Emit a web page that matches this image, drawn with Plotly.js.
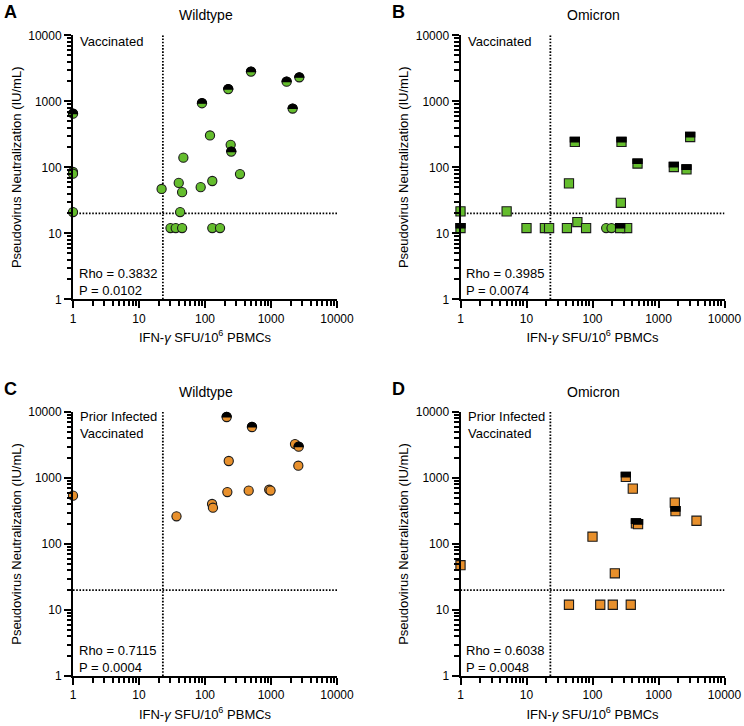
<!DOCTYPE html>
<html>
<head>
<meta charset="utf-8">
<script src="https://cdn.plot.ly/plotly-3.0.1.min.js"></script>
<style>html,body{margin:0;padding:0;background:#fff}</style>
</head>
<body>
<div id="chart" style="width:744px;height:726px"></div>
<script>
// ---------- data ----------
// Panel A: Wildtype, Vaccinated (circles)
const wtVacX = [1, 1, 1, 22, 30, 36, 45, 40, 45, 42, 47, 86, 119, 129, 129, 169, 245, 339];
const wtVacY = [85, 80, 21, 47, 12, 12, 12, 58, 42, 21, 140, 50, 304, 62, 12, 12, 219, 79];
const wtVacHalfX = [1, 90, 225, 250, 498, 1726, 2128, 2684];
const wtVacHalfY = [650, 935, 1530, 173, 2820, 1985, 777, 2310];
// Panel B: Omicron, Vaccinated (squares, two circles)
const omiVacX = [1, 5, 10, 19, 22, 41, 44, 59, 80, 335, 269];
const omiVacY = [21.5, 21.5, 12, 12, 12, 12, 57, 14.8, 12, 12, 29];
const omiVacCircX = [161, 194];
const omiVacCircY = [12, 12];
const omiVacHalfX = [1, 54, 262, 275, 481, 1707, 2655, 3020];
const omiVacHalfY = [12, 242, 12, 242, 114, 101, 93, 288];
// Panel C: Wildtype, Prior Infected Vaccinated (circles)
const wtInfX = [1, 37, 128, 132, 218, 229, 459, 940, 985, 2310, 2595];
const wtInfY = [540, 263, 404, 355, 613, 1810, 643, 665, 645, 3270, 1535];
const wtInfHalfX = [213, 515, 2626];
const wtInfHalfY = [8400, 5925, 2985];
// Panel D: Omicron, Prior Infected Vaccinated (squares)
const omiInfX = [1, 44, 100, 131, 203, 218, 380, 408, 1766, 3765];
const omiInfY = [47.7, 12, 129, 12, 12, 36, 12, 691, 425, 225];
const omiInfHalfX = [320, 455, 490, 1808];
const omiInfHalfY = [1037, 205, 200, 315];

const ifnCutoff = 23;
const neutCutoff = 20;
const axisMin = 1, axisMax = 10000;

const panelLetters = ["A", "B", "C", "D"];
const panelTitles = ["Wildtype", "Omicron", "Wildtype", "Omicron"];
const groupLabels = ["Vaccinated", "Vaccinated", "Prior Infected<br>Vaccinated", "Prior Infected<br>Vaccinated"];
const rhoLabels = ["Rho = 0.3832", "Rho = 0.3985", "Rho = 0.7115", "Rho = 0.6038"];
const pLabels = ["P = 0.0102", "P = 0.0074", "P = 0.0004", "P = 0.0048"];
const xTitle = "IFN-<i>γ</i> SFU/10<sup>6</sup> PBMCs";
const yTitle = "Pseudovirus Neutralization (IU/mL)";

// ---------- style ----------
const GREEN = "#64bd2d";
const ORANGE = "#e8902c";
const FONT = "Liberation Sans, Arial, sans-serif";
const W = 744, H = 726;
const px = v => v / W, py = v => 1 - v / H;

const panels = [
  { color: GREEN, sym: "circle", full: [wtVacX, wtVacY], half: [wtVacHalfX, wtVacHalfY], extra: null },
  { color: GREEN, sym: "square", full: [omiVacX, omiVacY], half: [omiVacHalfX, omiVacHalfY], extra: [omiVacCircX, omiVacCircY] },
  { color: ORANGE, sym: "circle", full: [wtInfX, wtInfY], half: [wtInfHalfX, wtInfHalfY], extra: null },
  { color: ORANGE, sym: "square", full: [omiInfX, omiInfY], half: [omiInfHalfX, omiInfHalfY], extra: null }
];

const MS = 9.2;
const data = [];
panels.forEach((p, i) => {
  const s = i === 0 ? "" : String(i + 1);
  const xa = "x" + s, ya = "y" + s;
  const dotLine = { color: "#000", width: 1.8, dash: "1.6px,1.6px" };
  data.push({ x: [ifnCutoff, ifnCutoff], y: [axisMin, axisMax], xaxis: xa, yaxis: ya, mode: "lines", line: dotLine, hoverinfo: "skip" });
  data.push({ x: [axisMin, axisMax], y: [neutCutoff, neutCutoff], xaxis: xa, yaxis: ya, mode: "lines", line: dotLine, hoverinfo: "skip" });
  data.push({ x: p.full[0], y: p.full[1], xaxis: xa, yaxis: ya, mode: "markers", cliponaxis: false,
    marker: { symbol: p.sym, size: MS, color: p.color, line: { color: "#1a1a1a", width: 1.1 } } });
  if (p.extra) {
    data.push({ x: p.extra[0], y: p.extra[1], xaxis: xa, yaxis: ya, mode: "markers", cliponaxis: false,
      marker: { symbol: "circle", size: MS, color: p.color, line: { color: "#1a1a1a", width: 1.1 } } });
  }
  data.push({ x: p.half[0], y: p.half[1], xaxis: xa, yaxis: ya, mode: "markers", cliponaxis: false,
    marker: { symbol: p.sym, size: MS, color: p.color, line: { color: "#1a1a1a", width: 1.1 } } });
  data.push({ uid: "halftop" + i, x: p.half[0], y: p.half[1], xaxis: xa, yaxis: ya, mode: "markers", cliponaxis: false,
    marker: { symbol: p.sym, size: MS, color: "#000", line: { color: "#000", width: 1.1 } } });
});

const xDom = [[73, 337], [460.5, 724.5], [73, 337], [460.5, 724.5]];
const yDom = [[35.3, 299.3], [35.3, 299.3], [412, 676], [412, 676]];

function axisBase() {
  return {
    type: "log", range: [Math.log10(axisMin), Math.log10(axisMax)],
    dtick: 1, tickformat: "d",
    showgrid: false, zeroline: false,
    showline: true, linecolor: "#000", linewidth: 2,
    ticks: "outside", ticklen: 7, tickwidth: 2, tickcolor: "#000",
    tickfont: { family: FONT, size: 12, color: "#000" },
    minor: { ticks: "outside", dtick: "D1", ticklen: 4.5, tickwidth: 1.6, tickcolor: "#000", showgrid: false }
  };
}

const layout = {
  width: W, height: H, margin: { l: 0, r: 0, t: 0, b: 0 },
  paper_bgcolor: "#fff", plot_bgcolor: "#fff", showlegend: false,
  font: { family: FONT, color: "#000", size: 13 },
  annotations: []
};

for (let i = 0; i < 4; i++) {
  const s = i === 0 ? "" : String(i + 1);
  const xa = axisBase(), ya = axisBase();
  xa.domain = [px(xDom[i][0]), px(xDom[i][1])];
  xa.anchor = "y" + s;
  xa.title = { text: xTitle, font: { family: FONT, size: 13, color: "#000" }, standoff: 8 };
  ya.domain = [py(yDom[i][1]), py(yDom[i][0])];
  ya.anchor = "x" + s;
  ya.title = { text: yTitle, font: { family: FONT, size: 13, color: "#000" }, standoff: 4 };
  layout["xaxis" + s] = xa;
  layout["yaxis" + s] = ya;

  const left = xDom[i][0];
  const top = yDom[i][0];
  const bottom = yDom[i][1];
  const cx = (xDom[i][0] + xDom[i][1]) / 2;
  layout.annotations.push(
    { text: "<b>" + panelLetters[i] + "</b>", xref: "paper", yref: "paper", x: px(left - 62.5), y: py(top - 23), xanchor: "center", yanchor: "middle", showarrow: false, font: { family: FONT, size: 18, color: "#000" } },
    { text: panelTitles[i], xref: "paper", yref: "paper", x: px(cx + 1), y: py(top - 20), xanchor: "center", yanchor: "middle", showarrow: false, font: { family: FONT, size: 14, color: "#000" } },
    { text: groupLabels[i], xref: "paper", yref: "paper", x: px(left + 5), y: py(i < 2 ? top + 6 : top + 13.3), xanchor: "left", yanchor: "middle", align: "left", showarrow: false, font: { family: FONT, size: 13, color: "#000" } },
    { text: rhoLabels[i] + "<br>" + pLabels[i], xref: "paper", yref: "paper", x: px(left + 4), y: py(bottom - 17), xanchor: "left", yanchor: "middle", align: "left", showarrow: false, font: { family: FONT, size: 13, color: "#000" } }
  );
}

Plotly.newPlot("chart", data, layout, { displayModeBar: false }).then(gd => {
  for (let i = 0; i < 4; i++) {
    const pts = gd.querySelectorAll("g.tracehalftop" + i + " path.point");
    pts.forEach(p => {
      const d = p.getAttribute("d") || "";
      const mm = d.match(/^M([\d.]+),/);
      if (!mm) return;
      const r = mm[1];
      if (d.indexOf("A") >= 0) {
        p.setAttribute("d", "M" + r + ",0A" + r + "," + r + " 0 0,0 -" + r + ",0Z");
      } else {
        p.setAttribute("d", "M" + r + ",0H-" + r + "V-" + r + "H" + r + "Z");
      }
    });
  }
});
</script>
</body>
</html>
